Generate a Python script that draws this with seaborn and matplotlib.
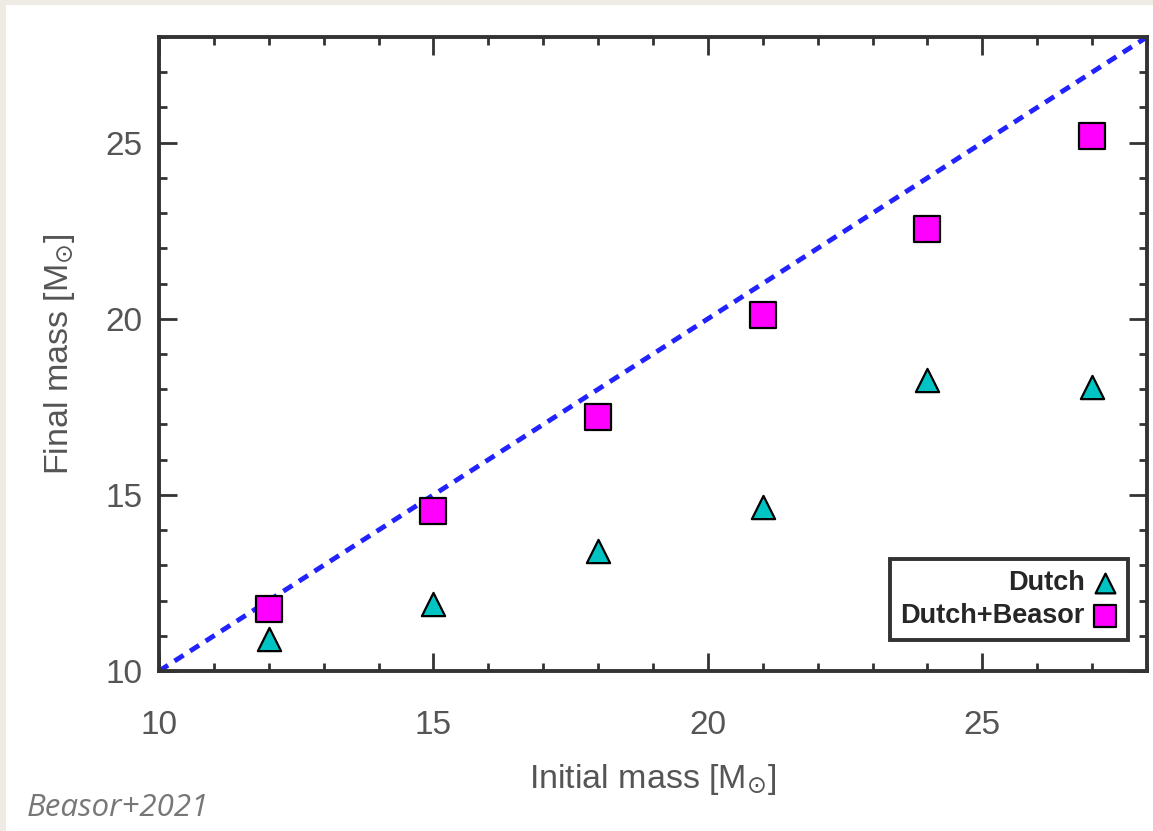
import numpy as np
import pandas as pd
import matplotlib
matplotlib.use('Agg')
import matplotlib.pyplot as plt
import seaborn as sns
from matplotlib.patches import Rectangle
from matplotlib.ticker import MultipleLocator

# valores
initial_mass = [12, 15, 18, 21, 24, 27]
dutch = [10.9, 11.9, 13.4, 14.65, 18.25, 18.05]
dutch_beasor = [11.75, 14.55, 17.2, 20.1, 22.55, 25.2]
one_to_one = [10, 28]

df = pd.DataFrame({'initial': initial_mass, 'dutch': dutch, 'beasor': dutch_beasor})
line = pd.DataFrame({'x': one_to_one, 'y': one_to_one})

sns.set_style('ticks')
plt.rcParams['font.family'] = ['Liberation Sans', 'DejaVu Sans']
plt.rcParams['mathtext.fontset'] = 'dejavusans'

fig = plt.figure(figsize=(11.53, 8.31), dpi=100)
fig.patch.set_facecolor('#eeebe4')
fig.patches.append(Rectangle((6 / 1153, 0), 1, 1 - 5 / 831, transform=fig.transFigure,
                             facecolor='white', edgecolor='none', zorder=-1))

ax = fig.add_axes([159 / 1153, 1 - 671 / 831, 988 / 1153, 634 / 831])
ax.set_facecolor('white')

# linea 1:1
sns.lineplot(data=line, x='x', y='y', ax=ax, color='#2222ff', linestyle=(0, (2.2, 1.6)),
             linewidth=3.5, zorder=2)

sns.scatterplot(data=df, x='initial', y='dutch', ax=ax, marker='^', s=280, color='#00c4c4',
                edgecolor='black', linewidth=1.6, label='Dutch', zorder=3)
sns.scatterplot(data=df, x='initial', y='beasor', ax=ax, marker='s', s=330, color='#ff00ff',
                edgecolor='black', linewidth=1.6, label='Dutch+Beasor', zorder=3)

ax.set_xlim(10, 28)
ax.set_ylim(10, 28)
ax.xaxis.set_major_locator(MultipleLocator(5))
ax.yaxis.set_major_locator(MultipleLocator(5))
ax.xaxis.set_minor_locator(MultipleLocator(1))
ax.yaxis.set_minor_locator(MultipleLocator(1))
ax.tick_params(which='both', direction='in', top=True, right=True, color='#333333', width=2)
ax.tick_params(which='major', length=13)
ax.tick_params(which='minor', length=6)
ax.tick_params(axis='x', which='major', pad=28, labelsize=24, labelcolor='#555555')
ax.tick_params(axis='y', which='major', pad=12, labelsize=24, labelcolor='#555555')
for s in ax.spines.values():
    s.set_visible(True)
    s.set_linewidth(2.8)
    s.set_color('#333333')

ax.set_xlabel(r'Initial mass [M$_{\odot}$]', fontsize=24.5, color='#555555', labelpad=15)
ax.set_ylabel(r'Final mass [M$_{\odot}$]', fontsize=24.5, color='#555555', labelpad=20)

leg = ax.legend(loc='lower right', bbox_to_anchor=(0.981, 0.049), markerfirst=False,
                frameon=True, fancybox=False, edgecolor='black',
                prop={'weight': 'bold', 'size': 19.5}, handletextpad=0.3, borderpad=0.4,
                labelspacing=0.25, handlelength=0.9, borderaxespad=0, markerscale=0.85)
leg.get_frame().set_linewidth(2.8)
for t in leg.get_texts():
    t.set_ha('right')

fig.text(27 / 1153, 1 - 808 / 831, 'Beasor+2021', fontsize=22.5, style='italic',
         color='#777777', family=['Open Sans', 'DejaVu Sans'], va='center')

fig.savefig('out.png', dpi=100)
